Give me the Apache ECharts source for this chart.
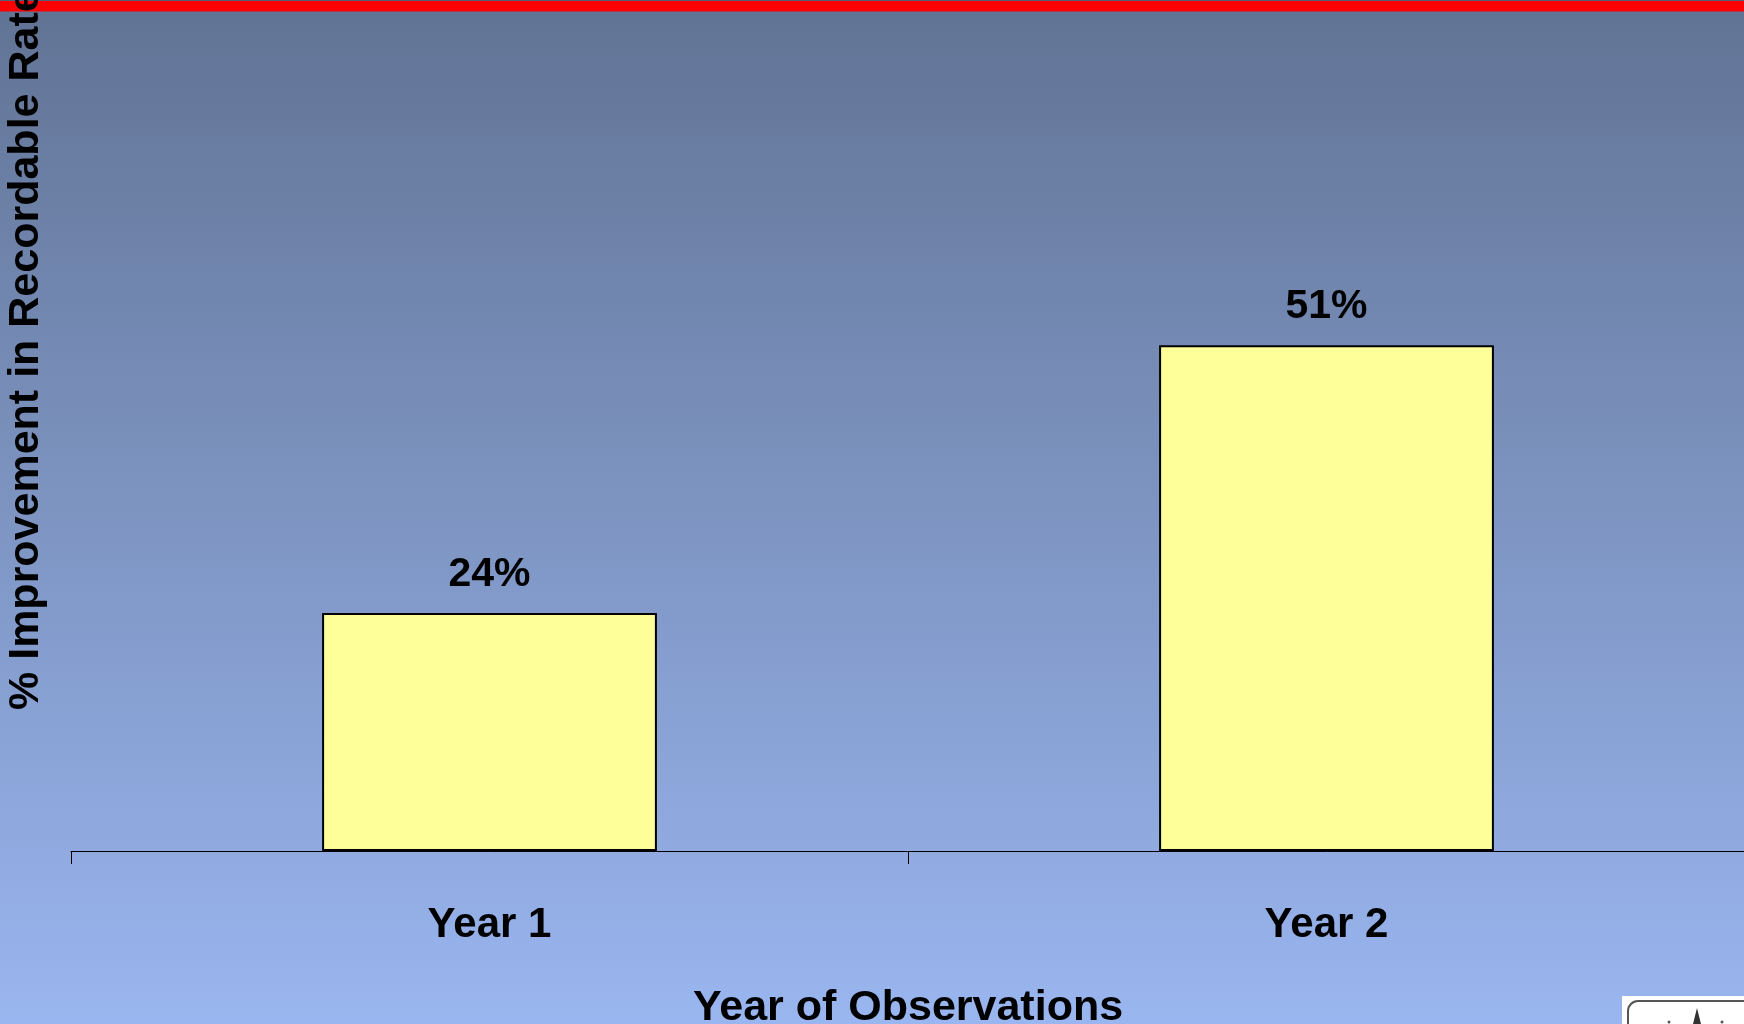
<!DOCTYPE html>
<html>
<head>
<meta charset="utf-8">
<script src="https://cdn.jsdelivr.net/npm/echarts@6/dist/echarts.min.js"></script>
<style>html,body{margin:0;padding:0;}#c{width:1744px;height:1024px;}</style>
</head>
<body>
<div id="c"></div>
<script>
var categories = ['Year 1', 'Year 2'];
var improvement = [24, 51];
var yTitle = '% Improvement in Recordable Rate';
var xTitle = 'Year of Observations';

var chart = echarts.init(document.getElementById('c'), null, {renderer: 'canvas'});
var font = '"Liberation Sans", Arial, sans-serif';
chart.setOption({
  animation: false,
  grid: {left: 71, top: 256, width: 1674, bottom: 173, containLabel: false, outerBoundsMode: 'none'},
  xAxis: {
    type: 'category',
    data: categories,
    axisLine: {show: true, lineStyle: {color: '#000', width: 1}},
    axisTick: {show: true, length: 13, lineStyle: {color: '#000', width: 1}},
    axisLabel: {color: '#000', fontFamily: font, fontWeight: 'bold', fontSize: 42, lineHeight: 42, margin: 53},
    name: xTitle,
    nameLocation: 'middle',
    nameGap: 136,
    nameTextStyle: {color: '#000', fontFamily: font, fontWeight: 'bold', fontSize: 43, lineHeight: 43}
  },
  yAxis: {
    type: 'value', min: 0, max: 60, show: false
  },
  series: [{
    type: 'bar',
    data: improvement,
    barWidth: '40%',
    itemStyle: {color: '#ffff99', borderColor: '#000', borderWidth: 2},
    label: {
      show: true, position: 'top', distance: 18,
      formatter: '{c}%', color: '#000', fontFamily: font, fontWeight: 'bold', fontSize: 41, lineHeight: 41
    }
  }],
  graphic: [
    {type: 'rect', z: -10, silent: true, shape: {x: 0, y: 0, width: 1744, height: 1024},
     style: {fill: {type: 'linear', x: 0, y: 0, x2: 0, y2: 1, colorStops: [
       {offset: 0, color: '#617394'}, {offset: 1, color: '#9ab6f0'}]}}},
    {type: 'rect', z: 5, silent: true, shape: {x: 0, y: 0, width: 1744, height: 1}, style: {fill: '#4f5f7f'}},
    {type: 'rect', z: 5, silent: true, shape: {x: 0, y: 1, width: 1744, height: 10.5}, style: {fill: '#ff0000'}},
    {type: 'text', z: 10, silent: true, x: 26, y: 710, rotation: Math.PI / 2,
     style: {text: yTitle, fill: '#000', font: 'bold 43px ' + font, textAlign: 'left', textVerticalAlign: 'middle'}},
    {type: 'rect', z: 5, silent: true, shape: {x: 1622, y: 996, width: 130, height: 40}, style: {fill: '#ffffff'}},
    {type: 'rect', z: 6, silent: true, shape: {x: 1628, y: 1001, width: 130, height: 40, r: 10},
     style: {fill: 'none', stroke: '#555', lineWidth: 2}},
    {type: 'polygon', z: 6, silent: true, shape: {points: [[1697, 1008], [1693, 1024], [1701, 1024]]}, style: {fill: '#333'}},
    {type: 'circle', z: 6, silent: true, shape: {cx: 1669, cy: 1022, r: 1.5}, style: {fill: '#555'}},
    {type: 'circle', z: 6, silent: true, shape: {cx: 1722, cy: 1022, r: 1.5}, style: {fill: '#555'}}
  ]
});
</script>
</body>
</html>
